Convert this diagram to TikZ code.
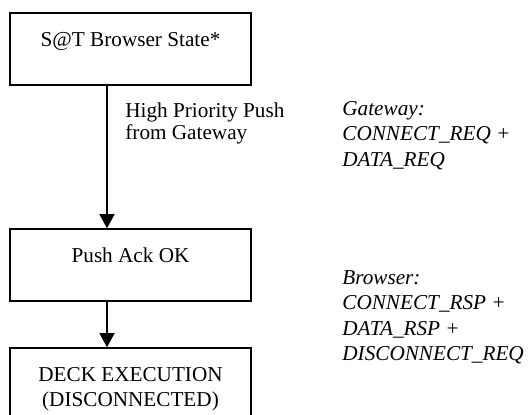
\documentclass[tikz,border=0pt]{standalone}
\usepackage{fontspec}
\setmainfont{Liberation Serif}
\usepackage{tikz}
\usetikzlibrary{arrows.meta,positioning}
\tikzstyle{statebox} = [rectangle, draw=black, line width=0.8pt, minimum width=120.5pt, inner sep=0pt, text height=16.5pt, text depth=19.5pt, align=center]
\tikzstyle{arrow} = [line width=0.7pt, -{Triangle[length=7pt,width=7.5pt]}]
\tikzstyle{note} = [anchor=north west, inner sep=0pt, align=left]
\tikzstyle{message} = [note, font=\fontsize{10.6pt}{12.75pt}\selectfont\itshape]

\begin{document}
\begin{tikzpicture}[x=0.5pt, y=-0.5pt, font=\fontsize{10.6pt}{12.75pt}\selectfont]
    \useasboundingbox (0,0) rectangle (528,414);
    \clip (0,0) rectangle (528,414);

    % States
    \node[statebox] (browser) at (130.5,49) {S@T Browser State*};
    \node[statebox] (ack) at (130.5,265) {Push Ack OK};
    % two lines: box measured from the last baseline
    \node[statebox, text height=29.25pt, text depth=6.75pt] (deck) at (130.5,384) {DECK EXECUTION\\(DISCONNECTED)};

    % Transitions
    \draw[arrow] ([xshift=-11.75pt]browser.south) -- ([xshift=-11.75pt]ack.north);
    \draw[arrow] ([xshift=-11.75pt]ack.south) -- ([xshift=-11.75pt]deck.north);

    % Notes
    \node[note, font=\fontsize{10.6pt}{11pt}\selectfont] (trigger) at (125,102) {High Priority Push\\from Gateway};
    \node[message] (gwmsg) at (342,101) {Gateway:\\CONNECT\_REQ +\\DATA\_REQ};
    \node[message] (brmsg) at (342,270) {Browser:\\CONNECT\_RSP +\\DATA\_RSP +\\DISCONNECT\_REQ};
\end{tikzpicture}
\end{document}
